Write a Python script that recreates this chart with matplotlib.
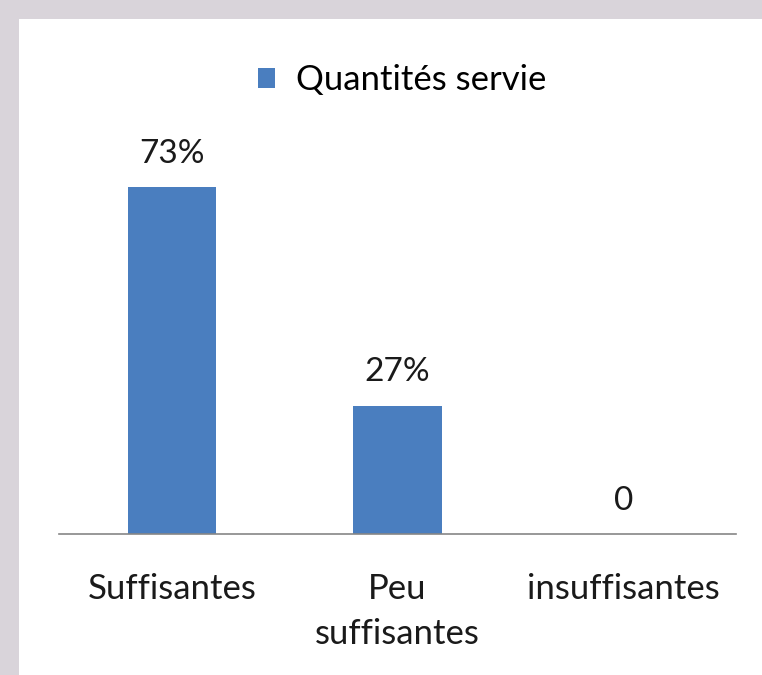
import numpy as np
import matplotlib.pyplot as plt
from matplotlib.patches import Rectangle

categories = ['Suffisantes', 'Peu\nsuffisantes', 'insuffisantes']
values = [73, 27, 0]
value_labels = ['73%', '27%', '0']
series_name = 'Quantités servie'

plt.rcParams['font.family'] = ['Lato', 'DejaVu Sans']

fig = plt.figure(figsize=(7.62, 6.75), dpi=100)
fig.patch.set_facecolor('#d9d4da')
# panneau blanc du graphique
fig.add_artist(Rectangle((19 / 762, 0), 1, 1 - 19 / 675, transform=fig.transFigure,
                         facecolor='white', edgecolor='none', zorder=0))

ax = fig.add_axes([59 / 762, (675 - 534) / 675, (736 - 59) / 762, 394 / 675])
ax.set_facecolor('none')
x = np.arange(len(categories))
bars = ax.bar(x, values, width=0.39, color='#4a7ebf', label=series_name, zorder=2)

for xi, v, lab in zip(x, values, value_labels):
    ax.annotate(lab, (xi, v), xytext=(0, 24), textcoords='offset points',
                ha='center', va='center', fontsize=24, color='#1a1a1a')

ax.set_xlim(-0.5, len(categories) - 0.5)
ax.set_ylim(0, 83)
ax.set_xticks(x)
ax.set_xticklabels(categories, fontsize=25, color='#1a1a1a', linespacing=1.5)
ax.tick_params(axis='x', length=0, pad=28)
ax.set_yticks([])
for s in ['top', 'right', 'left']:
    ax.spines[s].set_visible(False)
ax.spines['bottom'].set_color('#868686')
ax.spines['bottom'].set_linewidth(1.2)

fig.legend(handles=[bars], labels=[series_name], loc='center',
           bbox_to_anchor=(402 / 762, 1 - 80 / 675), frameon=False,
           fontsize=25, handlelength=0.5, handleheight=0.5, handletextpad=0.6)

fig.savefig('out.png', dpi=100, facecolor=fig.get_facecolor())
